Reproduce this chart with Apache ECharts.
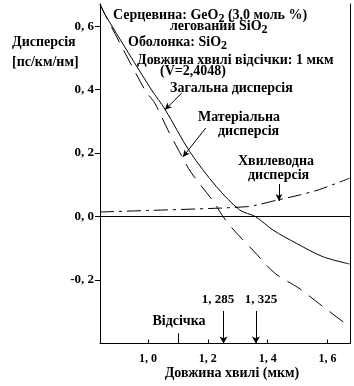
<!DOCTYPE html>
<html>
<head>
<meta charset="utf-8">
<script src="https://cdn.jsdelivr.net/npm/echarts@6/dist/echarts.min.js"></script>
<style>
html,body{margin:0;padding:0;background:#fff;}
#c{width:354px;height:386px;}
</style>
</head>
<body>
<div id="c"></div>
<script>
// ---- data (wavelength in µm, dispersion in ps/km/nm) ----
var xTicks = [1.0, 1.2, 1.4, 1.6];
var yTicks = [-0.2, 0.0, 0.2, 0.4, 0.6];

var totalWl   = [0.84, 0.8577, 1.0123, 1.0567, 1.14, 1.229, 1.3067, 1.359, 1.4177, 1.4957, 1.5843, 1.6733];
var totalDisp = [0.67, 0.6353, 0.399, 0.3388, 0.2045, 0.0942, 0.0208, 0.0, -0.0423, -0.0842, -0.1264, -0.1494];

var matWl   = [0.84, 0.8577, 0.99, 1.0233, 1.0667, 1.0967, 1.1433, 1.22, 1.251, 1.2867, 1.3533, 1.4233, 1.5033, 1.5733, 1.6733];
var matDisp = [0.67, 0.6353, 0.399, 0.357, 0.2732, 0.2193, 0.1405, 0.0458, 0.0, -0.0423, -0.1085, -0.1778, -0.2251, -0.2755, -0.347];

var wgWl   = [0.84, 1.0, 1.2233, 1.329, 1.3633, 1.4333, 1.5067, 1.5733, 1.6733];
var wgDisp = [0.0145, 0.0192, 0.0261, 0.0312, 0.0365, 0.0523, 0.0681, 0.0854, 0.1207];

// zero-dispersion markers (drawn positions) and cutoff marker
var zeroMarkWl = [1.2526, 1.3607];
var zeroMarkLabels = ['1, 285', '1, 325'];
var zeroMarkTop = -0.2975;
var cutoffWl = 1.1;
var cutoffTop = -0.3678;
var yMin = -0.4, yMax = 0.67, xMin = 0.84, xMax = 1.675;

// leader arrows for labels: [fromX, fromY, toX, toY]
var leaderTotal = [1.1133, 0.3895, 1.0567, 0.3364];
var leaderMat   = [1.1933, 0.2792, 1.1167, 0.1878];
var leaderWg    = [1.4377, 0.1027, 1.4377, 0.0491];

function zip(a, b) { return a.map(function (v, i) { return [v, b[i]]; }); }
function fmt(v) { return v.toFixed(1).replace('.', ', '); }

var FF = "'Liberation Serif', 'Times New Roman', serif";
var black = '#000';

var chart = echarts.init(document.getElementById('c'), null, {renderer: 'canvas'});

function txt(x, y, text, opts) {
  opts = opts || {};
  var fs = opts.fontSize || 14;
  return {
    type: 'text', x: x, y: y, silent: true,
    style: {
      text: text, fill: black, fontFamily: FF, fontWeight: 'bold',
      fontSize: fs,
      align: opts.align || 'left', verticalAlign: 'middle',
      rich: {
        n: {fontFamily: FF, fontWeight: 'bold', fontSize: fs, fill: black},
        s: {fontFamily: FF, fontWeight: 'bold', fontSize: 12, fill: black, padding: [8, 0, 0, 0]}
      }
    }
  };
}

var markLineBase = {silent: true, animation: false, label: {show: false}};

var option = {
  animation: false,
  backgroundColor: '#fff',
  grid: {left: 100, top: 4, width: 250, height: 339.5, containLabel: false},
  xAxis: {
    type: 'value', min: xMin, max: xMax,
    axisLine: {show: true, onZero: false, lineStyle: {color: black, width: 1}},
    axisTick: {show: true, inside: true, length: 4, customValues: xTicks, lineStyle: {color: black}},
    axisLabel: {customValues: xTicks, formatter: fmt, color: black, fontFamily: FF, fontWeight: 'bold', fontSize: 12, margin: 9},
    splitLine: {show: false}
  },
  yAxis: [{
    type: 'value', min: yMin, max: yMax, position: 'left',
    axisLine: {show: true, onZero: false, lineStyle: {color: black, width: 1}},
    axisTick: {show: true, inside: false, length: 5, customValues: yTicks, lineStyle: {color: black}},
    axisLabel: {customValues: yTicks, formatter: fmt, color: black, fontFamily: FF, fontWeight: 'bold', fontSize: 13, margin: 6},
    splitLine: {show: false}
  }, {
    type: 'value', min: yMin, max: yMax, position: 'right',
    axisLine: {show: true, onZero: false, lineStyle: {color: black, width: 1}},
    axisTick: {show: false}, axisLabel: {show: false}, splitLine: {show: false}
  }],
  series: [
    {
      name: 'Загальна дисперсія', type: 'line', data: zip(totalWl, totalDisp),
      smooth: 0.3, showSymbol: false, lineStyle: {color: black, width: 1},
      markLine: Object.assign({}, markLineBase, {
        symbol: ['none', 'none'],
        lineStyle: {color: black, width: 1, type: 'solid'},
        data: [
          [{coord: [xMin, 0]}, {coord: [xMax, 0]}],
          [{coord: [cutoffWl, yMin]}, {coord: [cutoffWl, cutoffTop]}]
        ]
      })
    },
    {
      name: 'Матеріальна дисперсія', type: 'line', data: zip(matWl, matDisp),
      smooth: 0.3, showSymbol: false, lineStyle: {color: black, width: 1, type: [17, 9]},
      markLine: Object.assign({}, markLineBase, {
        symbol: ['none', 'arrow'], symbolSize: [6, 7],
        lineStyle: {color: black, width: 1, type: 'solid'},
        data: zeroMarkWl.map(function (w) { return [{coord: [w, zeroMarkTop]}, {coord: [w, yMin]}]; })
      })
    },
    {
      name: 'Хвилеводна дисперсія', type: 'line', data: zip(wgWl, wgDisp),
      smooth: 0.3, showSymbol: false, lineStyle: {color: black, width: 1, type: [14, 5, 3, 5]},
      markLine: Object.assign({}, markLineBase, {
        symbol: ['none', 'arrow'], symbolSize: [5, 7],
        lineStyle: {color: black, width: 1, type: 'solid'},
        data: [leaderTotal, leaderMat, leaderWg].map(function (l) {
          return [{coord: [l[0], l[1]]}, {coord: [l[2], l[3]]}];
        })
      })
    }
  ],
  graphic: [
    txt(12, 42, 'Дисперсія'),
    txt(12, 62, '[пс/км/нм]'),
    txt(113, 15, '{n|Серцевина: GeO}{s|2}{n| (3,0 моль %)}'),
    txt(170, 26, '{n|легований SiO}{s|2}'),
    txt(128, 42, '{n|Оболонка: SiO}{s|2}'),
    txt(137, 60, 'Довжина хвилі відсічки: 1 мкм'),
    txt(160, 71, '(V=2,4048)'),
    txt(170, 88, 'Загальна дисперсія'),
    txt(198, 117, 'Матеріальна'),
    txt(218, 131, 'дисперсія'),
    txt(238, 161, 'Хвилеводна'),
    txt(248, 175, 'дисперсія'),
    txt(218, 300, zeroMarkLabels[0], {align: 'center', fontSize: 13}),
    txt(261, 300, zeroMarkLabels[1], {align: 'center', fontSize: 13}),
    txt(179, 321, 'Відсічка', {align: 'center'}),
    txt(232, 373, 'Довжина хвилі (мкм)', {align: 'center'})
  ]
};
chart.setOption(option);
</script>
</body>
</html>
